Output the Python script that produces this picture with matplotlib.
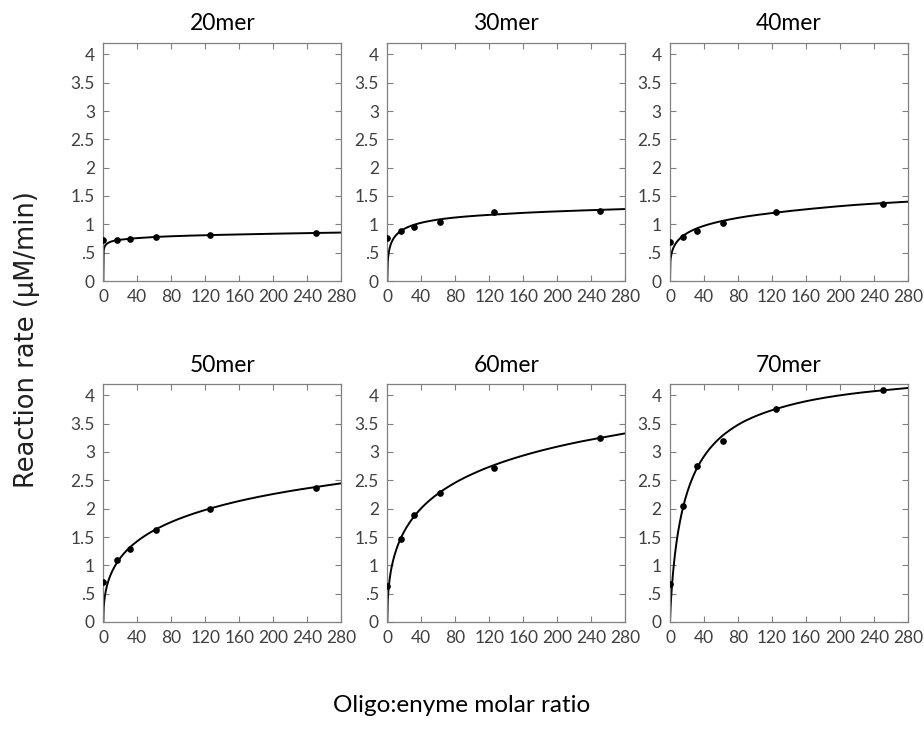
import matplotlib
matplotlib.use("Agg")
import matplotlib.pyplot as plt
import numpy as np

plt.rcParams['font.family'] = ['Lato', 'DejaVu Sans']

# ---- data ----
titles = ["20mer", "30mer", "40mer", "50mer", "60mer", "70mer"]
ratio_pts = [0, 15.625, 31.25, 62.5, 125, 250]

rate_20 = [0.73, 0.72, 0.75, 0.78, 0.81, 0.84]
rate_30 = [0.76, 0.88, 0.95, 1.05, 1.21, 1.23]
rate_40 = [0.68, 0.78, 0.89, 1.02, 1.22, 1.36]
rate_50 = [0.71, 1.10, 1.29, 1.62, 2.00, 2.36]
rate_60 = [0.63, 1.47, 1.88, 2.28, 2.72, 3.25]
rate_70 = [0.67, 2.04, 2.76, 3.20, 3.76, 4.09]

# fitted curves
ratio_fit = [0, 0.3, 1, 3, 6, 10, 16, 24, 34, 48, 65, 90, 125, 170, 220, 280]
fit_20 = [0, 0.50, 0.58, 0.64, 0.675, 0.70, 0.72, 0.735, 0.75, 0.765, 0.78, 0.795, 0.81, 0.825, 0.84, 0.855]
fit_30 = [0, 0.27, 0.42, 0.595, 0.715, 0.804, 0.884, 0.95, 1.004, 1.054, 1.095, 1.135, 1.172, 1.21, 1.24, 1.27]
fit_40 = [0, 0.30, 0.416, 0.547, 0.645, 0.725, 0.804, 0.877, 0.943, 1.01, 1.071, 1.139, 1.208, 1.28, 1.345, 1.40]
fit_50 = [0, 0.21, 0.353, 0.554, 0.727, 0.881, 1.046, 1.205, 1.354, 1.512, 1.66, 1.826, 2.0, 2.169, 2.312, 2.448]
fit_60 = [0, 0.294, 0.496, 0.785, 1.033, 1.252, 1.483, 1.704, 1.909, 2.124, 2.321, 2.54, 2.766, 2.981, 3.161, 3.329]
fit_70 = [0, 0.132, 0.344, 0.772, 1.215, 1.632, 2.063, 2.45, 2.778, 3.082, 3.327, 3.561, 3.761, 3.926, 4.04, 4.13]

rates = [rate_20, rate_30, rate_40, rate_50, rate_60, rate_70]
fits = [fit_20, fit_30, fit_40, fit_50, fit_60, fit_70]

x_ticks = [0, 40, 80, 120, 160, 200, 240, 280]
y_ticks = [0, 0.5, 1, 1.5, 2, 2.5, 3, 3.5, 4]
y_tick_labels = ["0", ".5", "1", "1.5", "2", "2.5", "3", "3.5", "4"]


def smooth_line(xs, ys, per_seg=30):
    """Monotone cubic (Fritsch-Carlson) drawing path through the listed samples."""
    x = np.asarray(xs, float)
    y = np.asarray(ys, float)
    h = np.diff(x)
    d = np.diff(y) / h
    m = np.zeros_like(y)
    m[0], m[-1] = d[0], d[-1]
    for k in range(1, len(x) - 1):
        if d[k - 1] * d[k] <= 0:
            m[k] = 0
        else:
            w1 = 2 * h[k] + h[k - 1]
            w2 = h[k] + 2 * h[k - 1]
            m[k] = (w1 + w2) / (w1 / d[k - 1] + w2 / d[k])
    px, py = [], []
    for k in range(len(x) - 1):
        t = np.linspace(0, 1, per_seg, endpoint=False)
        h00 = 2 * t**3 - 3 * t**2 + 1
        h10 = t**3 - 2 * t**2 + t
        h01 = -2 * t**3 + 3 * t**2
        h11 = t**3 - t**2
        px.append(x[k] + t * h[k])
        py.append(h00 * y[k] + h10 * h[k] * m[k] + h01 * y[k + 1] + h11 * h[k] * m[k + 1])
    px.append([x[-1]])
    py.append([y[-1]])
    return np.concatenate(px), np.concatenate(py)


# ---- figure ----
W, H = 924, 740
fig = plt.figure(figsize=(W / 100, H / 100), dpi=100)

lefts = [103.3, 387.3, 670]
tops = [43, 384]
aw, ah = 238, 238

for i in range(6):
    r, c = divmod(i, 3)
    ax = fig.add_axes([lefts[c] / W, 1 - (tops[r] + ah) / H, aw / W, ah / H])
    sx, sy = smooth_line(ratio_fit, fits[i])
    ax.plot(sx, sy, color='black', lw=1.4, zorder=2)
    ax.plot(ratio_pts, rates[i], 'o', color='black', ms=3.8, zorder=3)
    ax.set_xlim(0, 280)
    ax.set_ylim(0, 4.2)
    ax.set_xticks(x_ticks)
    ax.set_yticks(y_ticks)
    ax.set_yticklabels(y_tick_labels)
    ax.tick_params(direction='in', length=4, width=0.8, color='#808080',
                   labelsize=12.5, labelcolor='#404040', top=True, right=True)
    ax.tick_params(axis='x', pad=6)
    ax.tick_params(axis='y', pad=6)
    for s in ax.spines.values():
        s.set_color('#808080')
        s.set_linewidth(0.9)
    ax.set_title(titles[i], fontsize=16.5, color='black', pad=9)

fig.text(27 / W, 1 - 340 / H, "Reaction rate (µM/min)", rotation=90,
         ha='center', va='center', fontsize=18.5, color='#202020',
         family=['DejaVu Sans'])
fig.text(462 / W, 1 - 705 / H, "Oligo:enyme molar ratio",
         ha='center', va='center', fontsize=17.5, color='black')

fig.savefig("out.png", dpi=100)
